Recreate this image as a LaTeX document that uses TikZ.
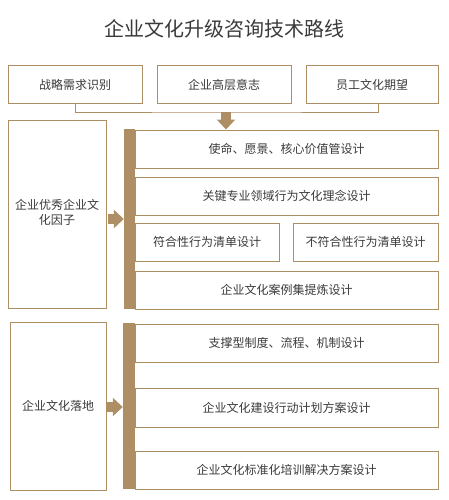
\documentclass[tikz,border=0pt]{standalone}
\usepackage{fontspec}
\setmainfont{Noto Sans CJK SC}
\usetikzlibrary{arrows.meta,calc}
\definecolor{brn}{RGB}{174,142,100}
\definecolor{txt}{RGB}{58,58,58}
\tikzset{
  box/.style={draw=brn, line width=1pt, inner sep=0pt, text=txt, font=\fontsize{12}{15}\selectfont, align=center},
  bar/.style={fill=brn, inner sep=0pt, minimum width=11pt},
  barrow/.style={draw=brn, line width=10pt, -{Triangle[width=18pt,length=10pt]}},
  conn/.style={draw=brn, line width=0.8pt}
}
\begin{document}
\begin{tikzpicture}[x=1pt,y=-1pt]
\useasboundingbox (0,0) rectangle (449,500);
\node[text=txt, font=\fontsize{20}{24}\selectfont] (title) at (224,29) {企业文化升级咨询技术路线};
% top boxes
\node[box, minimum width=134, minimum height=38] (s1) at (75,85) {战略需求识别};
\node[box, minimum width=134, minimum height=38] (s2) at (224,85) {企业高层意志};
\node[box, minimum width=132, minimum height=38] (s3) at (372,85) {员工文化期望};
\coordinate (j) at (226,112);
\draw[conn] (s1.south) |- (j) -| ($(s3.south)+(6,0)$);
% upper section
\node[box, minimum width=98, minimum height=188] (L1) at (57,214) {\begin{tabular}{@{}c@{}}企业优秀企业文\\化因子\end{tabular}};
\node[box, minimum width=303, minimum height=38] (A) at (286.5,149) {使命、愿景、核心价值管设计};
\node[box, minimum width=303, minimum height=38] (B) at (286.5,196) {关键专业领域行为文化理念设计};
\node[box, minimum width=144, minimum height=38] (C1) at (207,242) {符合性行为清单设计};
\node[box, minimum width=145, minimum height=38] (C2) at (365.5,242) {不符合性行为清单设计};
\node[box, minimum width=303, minimum height=38] (D) at (286.5,290) {企业文化案例集提炼设计};
\node[bar, minimum height=180] (bar1) at (129.5,219) {};
\draw[barrow] (j) -- (j |- A.north);
\coordinate (a1) at (0,219);
\draw[barrow] ($(L1.east |- a1)+(1,0)$) -- (bar1.west |- a1);
% lower section
\node[box, minimum width=96, minimum height=168] (L2) at (58,406) {企业文化落地};
\node[box, minimum width=303, minimum height=38] (E) at (286.5,343) {支撑型制度、流程、机制设计};
\node[box, minimum width=303, minimum height=39] (F) at (286.5,407.5) {企业文化建设行动计划方案设计};
\node[box, minimum width=303, minimum height=38] (G) at (286.5,470) {企业文化标准化培训解决方案设计};
\node[bar, minimum width=12pt, minimum height=166] (bar2) at (129,406) {};
\coordinate (a2) at (0,407);
\draw[barrow] ($(L2.east |- a2)+(-1,0)$) -- (bar2.west |- a2);
\end{tikzpicture}
\end{document}
